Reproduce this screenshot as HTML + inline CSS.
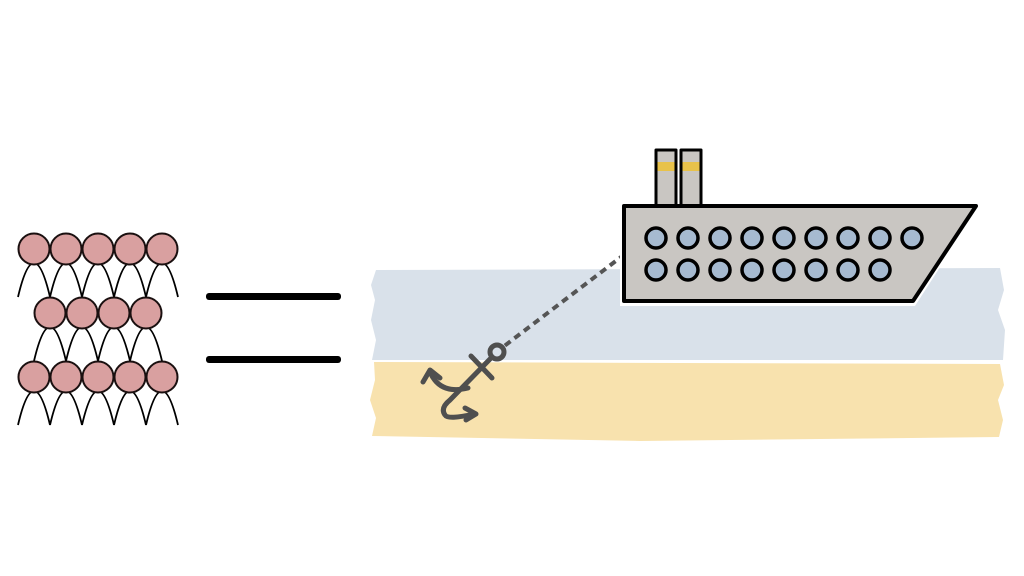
<!DOCTYPE html>
<html><head><meta charset="utf-8"><style>html,body{margin:0;padding:0;background:#fff;width:1024px;height:576px;overflow:hidden}</style></head>
<body>
<svg width="1024" height="576" viewBox="0 0 1024 576">
<g id="crowd"></g>
<g>
<rect x="206" y="293" width="135" height="7" rx="3" fill="#000"/>
<rect x="206" y="356" width="135" height="7" rx="3" fill="#000"/>
</g>
<g>
<path d="M376 270 L1000 268 L1004 290 L998 310 L1005 330 L1003 360 L372 360 L376 340 L371 320 L375 300 L371 285 Z" fill="#d9e1ea"/>
<path d="M374 362 L1000 364 L1004 385 L998 400 L1003 420 L999 437 L640 441 L372 436 L376 418 L370 400 L375 380 Z" fill="#f8e2ae"/>
</g>
<line x1="625" y1="254" x2="503" y2="347" stroke="#555" stroke-width="4" stroke-dasharray="7,5"/>
<g fill="none" stroke="#4f4f4f" stroke-width="5" stroke-linecap="round" stroke-linejoin="round">
<circle cx="497" cy="352" r="7"/>
<path d="M492 357 L450 400 Q440 408 445 415 Q448 420 474 414"/>
<path d="M471 356 L492 378"/>
<path d="M468 388 Q440 395 430 372"/>
<path d="M423 382 L430 370 L440 378"/>
<path d="M465 408 L476 414 L466 420"/>
</g>
<path d="M620 202 L982 202 L915 306 L620 306 Z" fill="#fff"/>
<g stroke="#000" stroke-width="4" stroke-linejoin="round">
<rect x="656" y="150" width="20" height="56" fill="#c9c6c2" stroke-width="3"/>
<rect x="681" y="150" width="20" height="56" fill="#c9c6c2" stroke-width="3"/>
<rect x="657.5" y="162" width="17" height="9" fill="#e8c24a" stroke="none"/>
<rect x="682.5" y="162" width="17" height="9" fill="#e8c24a" stroke="none"/>
<path d="M624 206 L976 206 L913 301 L624 301 Z" fill="#c9c6c2"/>
<g id="portholes"></g>
</g>
</svg>
<script>
const ns='http://www.w3.org/2000/svg';
const rowY=[249,313,377];
const rowStartX=[34,50,34];
const rowCounts=[5,4,5];
const crowd=document.getElementById('crowd');
const bodies=document.createElementNS(ns,'g');
const heads=document.createElementNS(ns,'g');
crowd.appendChild(bodies);crowd.appendChild(heads);
rowY.forEach((cy,r)=>{
  for(let i=0;i<rowCounts[r];i++){
    const cx=rowStartX[r]+i*32;
    const b=document.createElementNS(ns,'path');
    b.setAttribute('d',`M${cx-16} ${cy+48} Q${cx} ${cy-20} ${cx+16} ${cy+48}`);
    b.setAttribute('fill','none');b.setAttribute('stroke','#000');b.setAttribute('stroke-width','1.8');
    
    
    bodies.appendChild(b);
    const h=document.createElementNS(ns,'circle');
    h.setAttribute('cx',cx);h.setAttribute('cy',cy);h.setAttribute('r',15.5);
    h.setAttribute('fill','#d9a0a0');h.setAttribute('stroke','#1a1010');h.setAttribute('stroke-width','2');
    
    
    heads.appendChild(h);
  }
});
const portRowsY=[238,270];
const portCounts=[9,8];
const ph=document.getElementById('portholes');
portRowsY.forEach((y,r)=>{
  for(let i=0;i<portCounts[r];i++){
    const c=document.createElementNS(ns,'circle');
    c.setAttribute('cx',656+i*32);c.setAttribute('cy',y);c.setAttribute('r',10);
    c.setAttribute('fill','#a6bad0');c.setAttribute('stroke-width','3.5');
    
    
    ph.appendChild(c);
  }
});
</script>
</body></html>
